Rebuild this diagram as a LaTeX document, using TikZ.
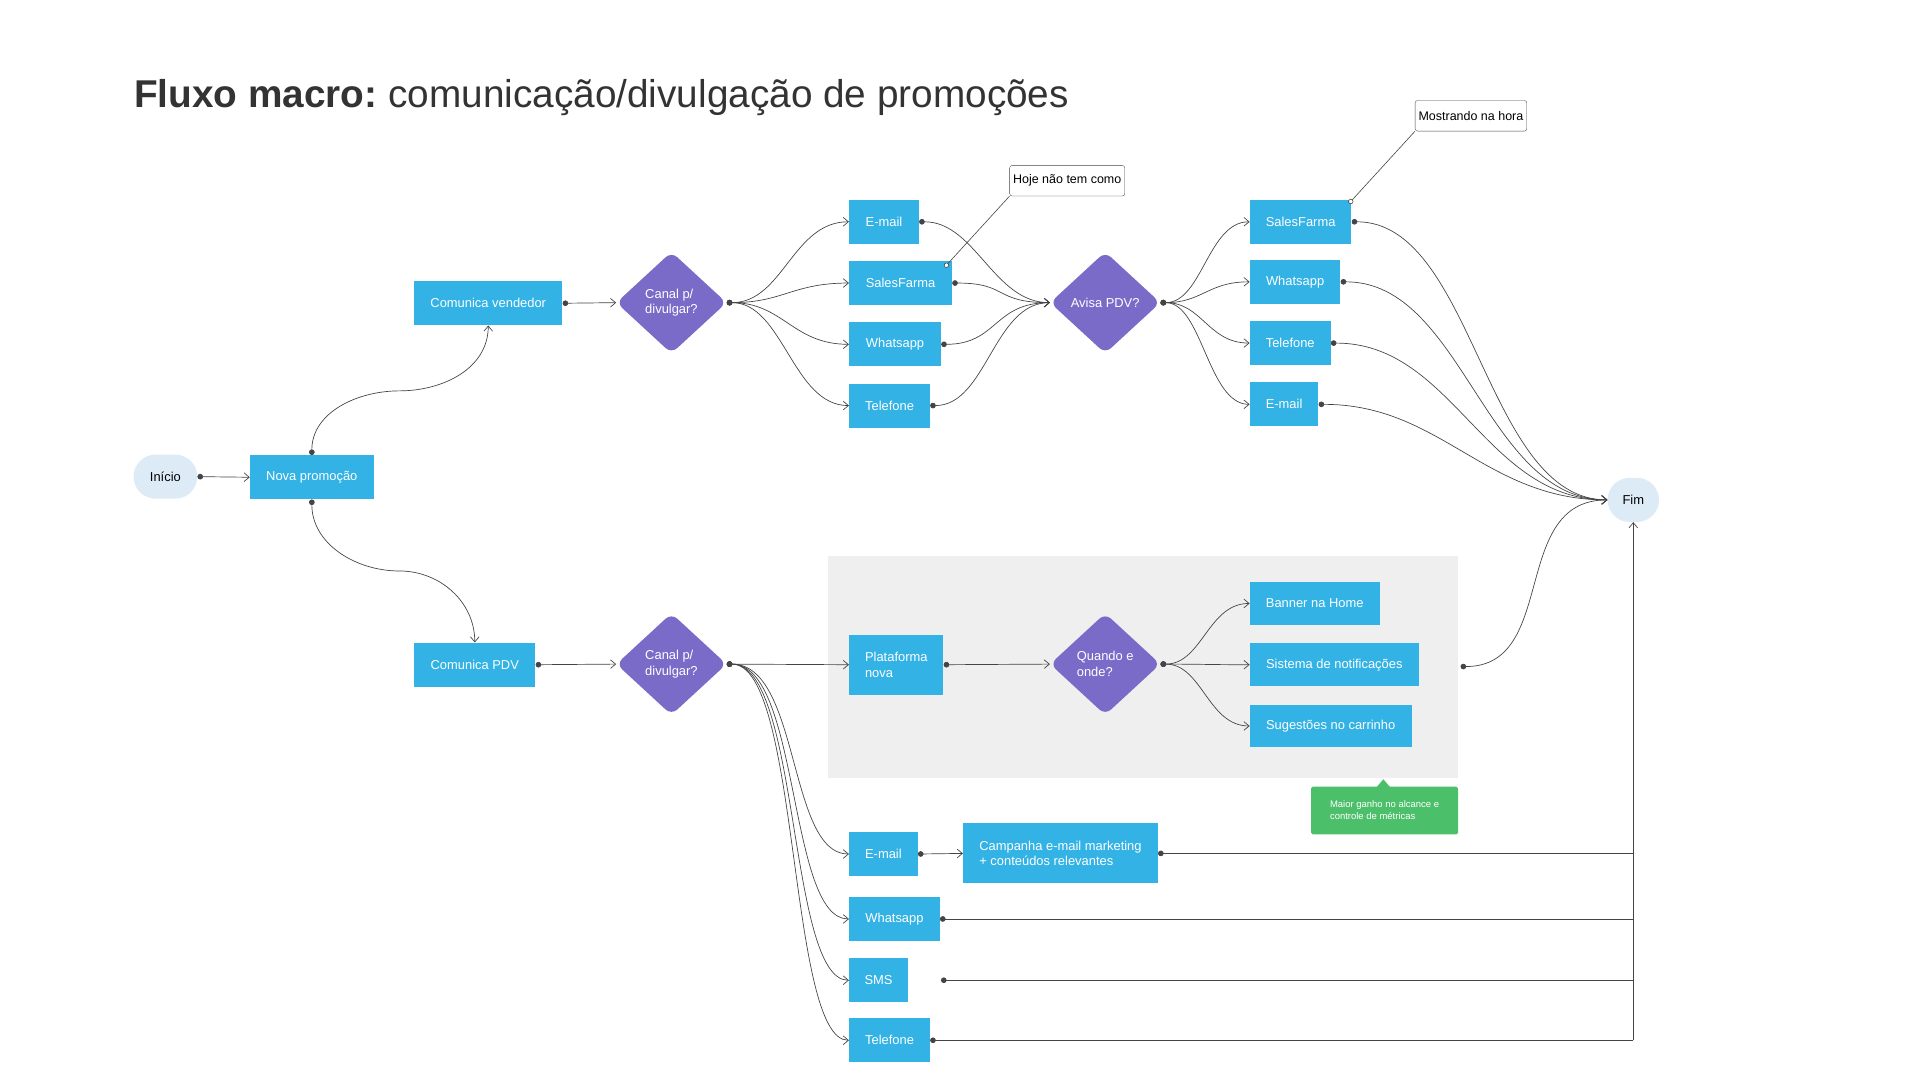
\documentclass[tikz,border=0pt]{standalone}
\usepackage{fontspec}
\setmainfont{Liberation Sans}
\usetikzlibrary{shapes.geometric,arrows.meta}
\definecolor{bx}{HTML}{33B2E5}
\definecolor{pu}{HTML}{7B6BC8}
\definecolor{lb}{HTML}{DCEBF5}
\definecolor{gn}{HTML}{4CBF6B}
\definecolor{ln}{HTML}{444444}
\definecolor{gb}{HTML}{EFEFEF}
\begin{document}
\begin{tikzpicture}[x=0.05cm,y=-0.05cm,
 font=\fontsize{15}{18}\selectfont,
 box/.style={fill=bx,text=white,minimum height=1.8cm,inner sep=2pt,align=left},
 dia/.style={diamond,fill=pu,text=white,minimum width=4.5cm,minimum height=4.15cm,inner sep=0pt,rounded corners=9pt,align=left},
 term/.style={fill=lb,rounded corners=0.9cm,minimum height=1.8cm,text=black},
 call/.style={draw=ln,fill=white,rounded corners=3pt,minimum height=1.25cm,inner sep=4pt,font=\fontsize{14.5}{17}\selectfont},
 conn/.style={draw=ln,line width=0.8pt,{Circle[length=6.5pt]}-{Straight Barb[length=6pt,width=10pt]}},
 plain/.style={draw=ln,line width=0.8pt,{Circle[length=6.5pt]}-},
 cl/.style={draw=ln,line width=0.7pt,{Circle[open,fill=white,length=6pt]}-},
 fanA/.style={conn,to path={.. controls +(2.3cm,0) and +(-2.3cm,0) .. (\tikztotarget)}},
 fanB/.style={conn,to path={.. controls +(1.7cm,0) and +(-1.7cm,0) .. (\tikztotarget)}},
]
\useasboundingbox (0,0) rectangle (1567,881);
\node[anchor=west,font=\fontsize{45}{52}\selectfont,text=black!80] (title) at (107,80) {\textbf{Fluxo macro:}~comunicação/divulgação de promoções};
\node[fill=gb,minimum width=25.7cm,minimum height=9.05cm,inner sep=0pt] (area) at (933,544.5) {};
\coordinate (gbd) at (1192,544);
\node[term,minimum width=2.6cm] (ini) at (135,389) {Início};
\node[box,minimum width=5.05cm] (nova) at (254.5,389.5) {Nova promoção};
\node[box,minimum width=6.05cm] (cv) at (398.5,247.5) {Comunica vendedor};
\node[box,minimum width=4.95cm] (cp) at (387.5,542.5) {Comunica PDV};
\node[dia] (d1) at (548,247) {Canal p/\\divulgar?};
\node[dia] (d2) at (548,542) {Canal p/\\divulgar?};
\node[box,minimum width=2.85cm] (e1) at (721.5,181) {E-mail};
\node[box,minimum width=4.2cm] (s1) at (735,231) {SalesFarma};
\node[box,minimum width=3.75cm] (w1) at (730.5,281) {Whatsapp};
\node[box,minimum width=3.3cm] (t1) at (726,331) {Telefone};
\node[dia] (d3) at (902,247) {Avisa PDV?};
\node[box,minimum width=4.15cm] (s2) at (1061.5,181) {SalesFarma};
\node[box,minimum width=3.7cm] (w2) at (1057,230) {Whatsapp};
\node[box,minimum width=3.3cm] (t2) at (1053,280) {Telefone};
\node[box,minimum width=2.8cm] (e2) at (1048,330) {E-mail};
\node[term,minimum width=2.1cm] (fim) at (1333,408) {Fim};
\node[call] (hoje) at (871,147.5) {Hoje não tem como};
\node[call] (most) at (1200.5,94.5) {Mostrando na hora};
\node[box,minimum width=3.85cm,minimum height=2.45cm] (plat) at (731.5,542.5) {Plataforma\\nova};
\node[dia] (d4) at (902,542) {Quando e\\onde?};
\node[box,minimum width=5.3cm,minimum height=1.75cm] (ban) at (1073,492.5) {Banner na Home};
\node[box,minimum width=6.9cm,minimum height=1.75cm] (sis) at (1089,542.5) {Sistema de notificações};
\node[box,minimum width=6.6cm,minimum height=1.75cm] (sug) at (1086,592.5) {Sugestões no carrinho};
\node[fill=gn,text=white,minimum width=6cm,minimum height=1.95cm,rounded corners=2pt,align=left,font=\fontsize{11}{14}\selectfont] (note) at (1130,661.5) {Maior ganho no alcance e\\controle de métricas};
\fill[gn] (1123,643) -- (1129,636) -- (1135,643) -- cycle;
\node[box,minimum width=2.8cm] (e3) at (721,697) {E-mail};
\node[box,minimum width=7.95cm,minimum height=2.45cm] (camp) at (865.5,696.5) {Campanha e-mail marketing\\+ conteúdos relevantes};
\node[box,minimum width=3.7cm] (w3) at (730,750) {Whatsapp};
\node[box,minimum width=2.4cm] (sms) at (717,800) {SMS};
\node[box,minimum width=3.3cm] (t3) at (726,849) {Telefone};
% connectors
\draw[conn] (ini.east) -- (nova.west);
\draw[conn] (nova.north) to[out=90,in=180] (326,319) to[out=0,in=270] (cv.south);
\draw[conn] (nova.south) to[out=270,in=180] (326,466) to[out=0,in=90] (cp.north);
\draw[conn] (cv.east) -- (d1.west);
\draw[conn] (cp.east) -- (d2.west);
\foreach \n in {e1,s1,w1,t1}{\draw[fanA] (d1.east) to (\n.west);
 \draw[fanA] (\n.east) to (d3.west);}
\foreach \n in {s2,w2,t2,e2}{\draw[fanB] (d3.east) to (\n.west);
 \draw[conn] (\n.east) .. controls +(5cm,0) and +(-5cm,0) .. (fim.west);}
\draw[conn] (gbd) .. controls +(4cm,0) and +(-4cm,0) .. (fim.west);
\draw[conn] (d2.east) -- (plat.west);
\draw[conn] (plat.east) -- (d4.west);
\foreach \n in {ban,sis,sug}{\draw[fanB] (d4.east) to (\n.west);}
\foreach \n in {e3,w3,sms,t3}{\draw[conn] (d2.east) .. controls +(3cm,0) and +(-2.5cm,0) .. (\n.west);}
\draw[conn] (e3.east) -- (camp.west);
\coordinate (r4) at (1333,849);
\coordinate (smsd) at (768,800);
\draw[plain] (camp.east) -- (camp.east -| r4);
\draw[plain] (w3.east) -- (w3.east -| r4);
\draw[plain] (smsd) -- (smsd -| r4);
\draw[plain] (t3.east) -- (r4);
\draw[draw=ln,line width=0.8pt,-{Straight Barb[length=6pt,width=10pt]}] (r4) -- (fim.south);
\coordinate (s1c) at (771,218);
\coordinate (s2c) at (1101,166);
\draw[cl] (s1c) -- (hoje.south west);
\draw[cl] (s2c) -- (most.south west);
\end{tikzpicture}
\end{document}
